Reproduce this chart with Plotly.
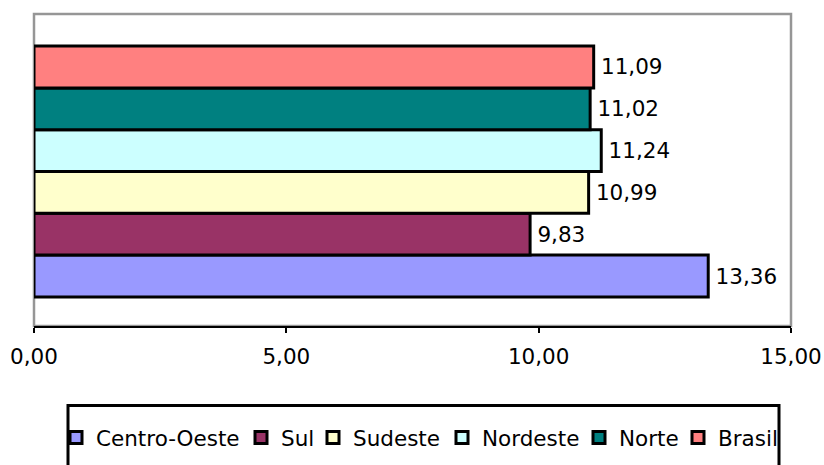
import plotly.graph_objects as go

regions = ["Centro-Oeste", "Sul", "Sudeste", "Nordeste", "Norte", "Brasil"]
values = [13.36, 9.83, 10.99, 11.24, 11.02, 11.09]
colors = ["#9999FF", "#993366", "#FFFFCC", "#CCFFFF", "#008080", "#FF8080"]
x_ticks = [0, 5, 10, 15]
# legend entry left positions (pixels)
legend_px = [56, 241, 313, 442, 579, 678]

FONT = "Verdana, DejaVu Sans, sans-serif"
FS = 21.5
W, H = 824, 465
ML, MR, MT, MB = 34, 33, 14, 139
PW = W - ML - MR
PH = H - MT - MB


def px_to_paper_x(p):
    return (p - ML) / PW


def px_to_paper_y(p):
    return (H - MB - p) / PH


fig = go.Figure()
legend_layouts = {}
for i, (name, v, c) in enumerate(zip(regions, values, colors)):
    lg = "legend" if i == 0 else f"legend{i + 1}"
    fig.add_trace(go.Bar(
        x=[v], y=[0], orientation="h", name=name, legend=lg,
        marker=dict(color=c, line=dict(color="black", width=3)),
        text=[v], texttemplate="\u2009%{x:.2f}", textposition="outside",
        textfont=dict(family=FONT, size=FS, color="black"),
        constraintext="none", cliponaxis=False,
    ))
    legend_layouts[lg] = dict(
        orientation="h", x=px_to_paper_x(legend_px[i]), xanchor="left",
        y=px_to_paper_y(417), yanchor="top",
        font=dict(family=FONT, size=FS, color="black"),
        bgcolor="rgba(0,0,0,0)", borderwidth=0,
    )

fig.update_layout(
    width=W, height=H,
    margin=dict(l=ML, r=MR, t=MT, b=MB, autoexpand=False),
    paper_bgcolor="white", plot_bgcolor="white",
    barmode="group", bargap=0.196,
    separators=",.",
    font=dict(family=FONT, size=FS, color="black"),
    showlegend=True,
    xaxis=dict(
        range=[0, 15], tickvals=x_ticks, tickformat=".2f",
        showline=True, linecolor="black", linewidth=2,
        ticks="outside", ticklen=5, tickwidth=2, tickcolor="black",
        showgrid=False, zeroline=False, ticklabelstandoff=5,
        tickfont=dict(family=FONT, size=FS, color="black"),
    ),
    yaxis=dict(
        range=[-0.4952, 0.5048], showticklabels=False, showgrid=False,
        zeroline=False, showline=False, ticks="",
    ),
    shapes=[
        dict(type="rect", xref="paper", yref="paper", x0=0, x1=1, y0=0, y1=1,
             line=dict(color="#969696", width=2.5), layer="below"),
        dict(type="rect", xref="paper", yref="paper",
             x0=px_to_paper_x(68), x1=px_to_paper_x(779),
             y0=px_to_paper_y(478), y1=px_to_paper_y(405.5),
             line=dict(color="black", width=3),
             fillcolor="rgba(0,0,0,0)", layer="above"),
    ],
    **legend_layouts,
)

fig.write_html(
    "out.html",
    config={"displayModeBar": False},
    post_script="document.body.style.margin='0px';document.body.style.overflow='hidden';",
)
